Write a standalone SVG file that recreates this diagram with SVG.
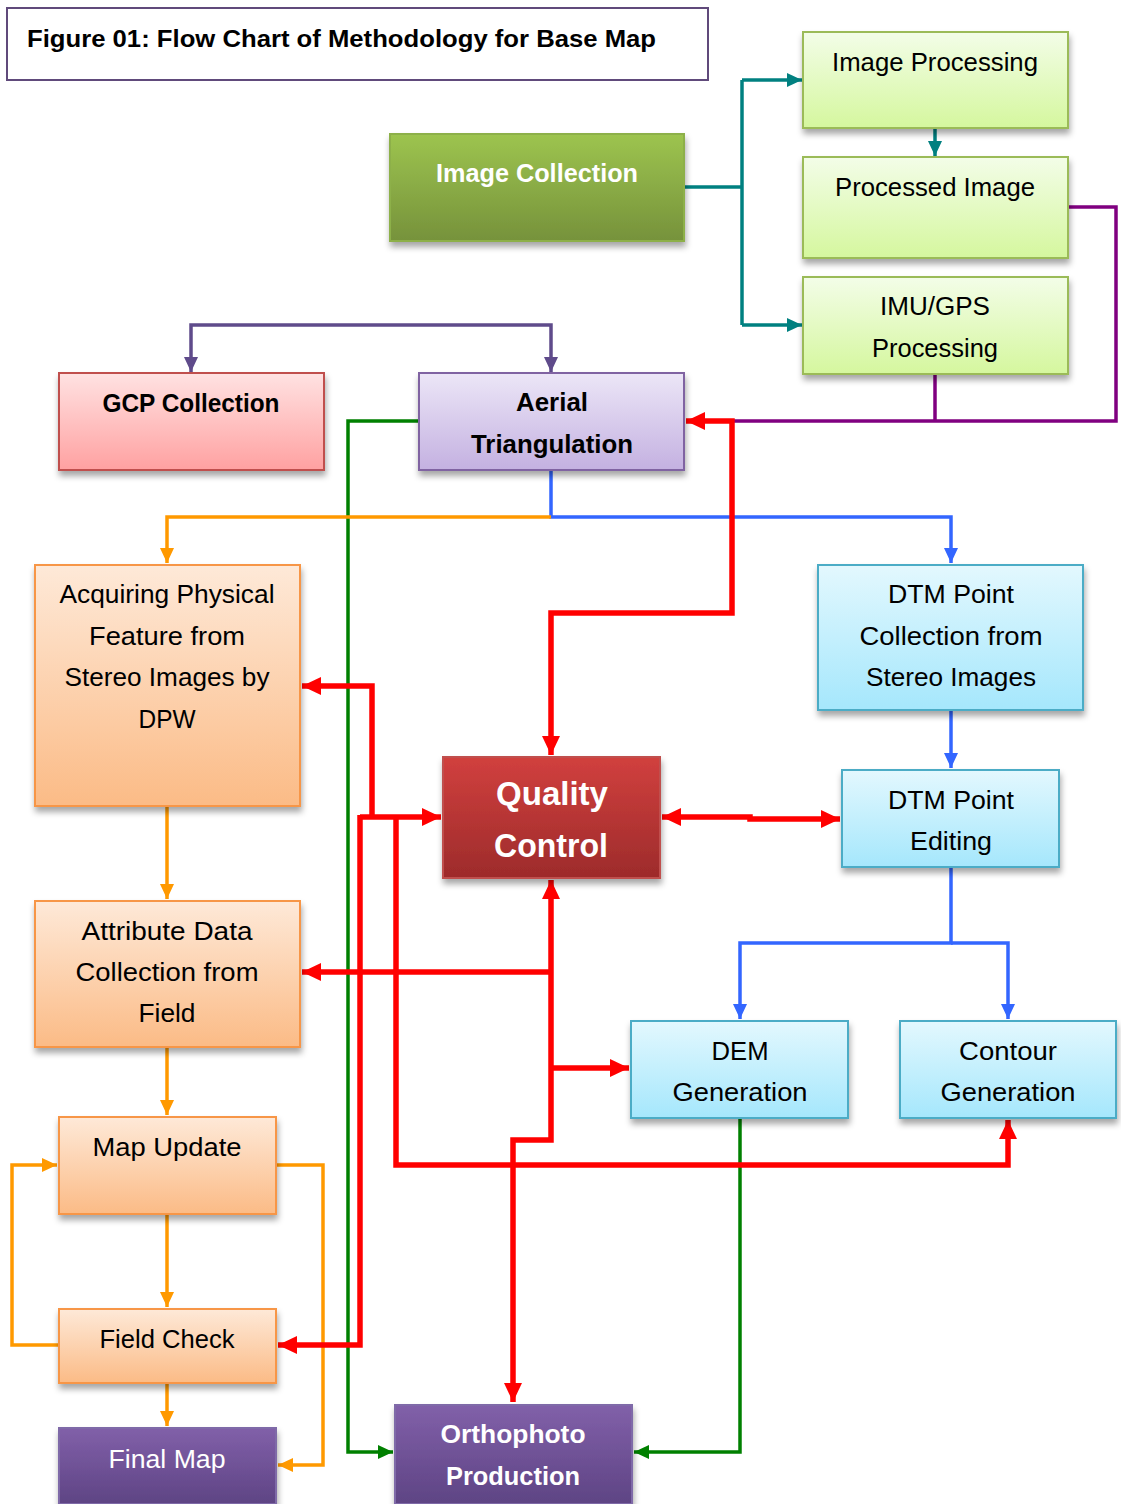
<svg xmlns="http://www.w3.org/2000/svg" width="1121" height="1504" viewBox="0 0 1121 1504">
<style>
  text { font-family: "Liberation Sans", Arial, sans-serif; font-size: 25px; fill: #000; text-anchor: middle; }
  .b { font-weight: bold; }
  .w { fill: #fff; }
  .node rect { filter: url(#sh); stroke-width: 2; }
  .c { fill: none; stroke-linejoin: miter; }
  .teal { stroke: #008080; stroke-width: 3.5; }
  .dp { stroke: #5f4b8b; stroke-width: 3.5; }
  .pu { stroke: #800080; stroke-width: 3.5; }
  .or { stroke: #ff9900; stroke-width: 3.5; }
  .bl { stroke: #3366ff; stroke-width: 3.5; }
  .gr { stroke: #008000; stroke-width: 3.5; }
  .rd { stroke: #ff0000; stroke-width: 5.5; }
</style>
<defs>
  <filter id="sh" x="-10%" y="-10%" width="130%" height="140%">
    <feDropShadow dx="1" dy="5" stdDeviation="3" flood-color="#000" flood-opacity="0.35"/>
  </filter>
  <linearGradient id="gLG" x1="0" y1="0" x2="0" y2="1"><stop offset="0" stop-color="#f3fde8"/><stop offset="1" stop-color="#d5f79e"/></linearGradient>
  <linearGradient id="gDG" x1="0" y1="0" x2="0" y2="1"><stop offset="0" stop-color="#9dc44f"/><stop offset="1" stop-color="#76923b"/></linearGradient>
  <linearGradient id="gPK" x1="0" y1="0" x2="0" y2="1"><stop offset="0" stop-color="#ffe2e2"/><stop offset="1" stop-color="#ffa1a1"/></linearGradient>
  <linearGradient id="gLV" x1="0" y1="0" x2="0" y2="1"><stop offset="0" stop-color="#ece6f7"/><stop offset="1" stop-color="#c4b1e1"/></linearGradient>
  <linearGradient id="gOR" x1="0" y1="0" x2="0" y2="1"><stop offset="0" stop-color="#fee9d8"/><stop offset="1" stop-color="#fbbb86"/></linearGradient>
  <linearGradient id="gCY" x1="0" y1="0" x2="0" y2="1"><stop offset="0" stop-color="#e3f8fe"/><stop offset="1" stop-color="#a5e7fc"/></linearGradient>
  <linearGradient id="gRD" x1="0" y1="0" x2="0" y2="1"><stop offset="0" stop-color="#d1403e"/><stop offset="1" stop-color="#9d2b2b"/></linearGradient>
  <linearGradient id="gPU" x1="0" y1="0" x2="0" y2="1"><stop offset="0" stop-color="#8160a9"/><stop offset="1" stop-color="#5e4484"/></linearGradient>
  <marker id="aTeal" markerUnits="userSpaceOnUse" markerWidth="16" markerHeight="14" refX="15" refY="7" orient="auto-start-reverse"><path d="M0,0 L15,7 L0,14 z" fill="#008080"/></marker>
  <marker id="aDP" markerUnits="userSpaceOnUse" markerWidth="16" markerHeight="14" refX="15" refY="7" orient="auto-start-reverse"><path d="M0,0 L15,7 L0,14 z" fill="#5f4b8b"/></marker>
  <marker id="aOr" markerUnits="userSpaceOnUse" markerWidth="16" markerHeight="14" refX="15" refY="7" orient="auto-start-reverse"><path d="M0,0 L15,7 L0,14 z" fill="#ff9900"/></marker>
  <marker id="aBl" markerUnits="userSpaceOnUse" markerWidth="16" markerHeight="14" refX="15" refY="7" orient="auto-start-reverse"><path d="M0,0 L15,7 L0,14 z" fill="#3366ff"/></marker>
  <marker id="aGr" markerUnits="userSpaceOnUse" markerWidth="16" markerHeight="14" refX="15" refY="7" orient="auto-start-reverse"><path d="M0,0 L15,7 L0,14 z" fill="#008000"/></marker>
  <marker id="aRd" markerUnits="userSpaceOnUse" markerWidth="20" markerHeight="18" refX="19" refY="9" orient="auto-start-reverse"><path d="M0,0 L19,9 L0,18 z" fill="#ff0000"/></marker>
</defs>

<g id="title">
  <rect x="7" y="8" width="701" height="72" fill="#fff" stroke="#604a7b" stroke-width="2"/>
  <text x="27" y="47" class="b" style="text-anchor:start;font-size:24px" textLength="629" lengthAdjust="spacingAndGlyphs">Figure 01: Flow Chart of Methodology for Base Map</text>
</g>

<g id="connectors">
  <!-- teal -->
  <path class="c teal" d="M684,187 L742,187"/>
  <path class="c teal" d="M742,80 L742,325"/>
  <path class="c teal" d="M742,80 L802,80" marker-end="url(#aTeal)"/>
  <path class="c teal" d="M742,325 L802,325" marker-end="url(#aTeal)"/>
  <path class="c teal" d="M935,128 L935,156" marker-end="url(#aTeal)"/>
  <!-- purple -->
  <path class="c pu" d="M1068,207 L1116,207 L1116,421 L732,421"/>
  <path class="c pu" d="M935,375 L935,421"/>
  <!-- dark purple -->
  <path class="c dp" d="M191,372 L191,325 L551,325 L551,372" marker-start="url(#aDP)" marker-end="url(#aDP)"/>
  <!-- green -->
  <path class="c gr" d="M419,421 L348,421 L348,1452 L393,1452" marker-end="url(#aGr)"/>
  <path class="c gr" d="M740,1118 L740,1452 L634,1452" marker-end="url(#aGr)"/>
  <!-- blue -->
  <path class="c bl" d="M551,470 L551,517 L951,517 L951,563" marker-end="url(#aBl)"/>
  <path class="c bl" d="M951,710 L951,768" marker-end="url(#aBl)"/>
  <path class="c bl" d="M951,867 L951,943 L740,943 L740,1019" marker-end="url(#aBl)"/>
  <path class="c bl" d="M951,943 L1008,943 L1008,1019" marker-end="url(#aBl)"/>
  <!-- orange -->
  <path class="c or" d="M551,517 L167,517 L167,563" marker-end="url(#aOr)"/>
  <path class="c or" d="M167,806 L167,899" marker-end="url(#aOr)"/>
  <path class="c or" d="M167,1047 L167,1115" marker-end="url(#aOr)"/>
  <path class="c or" d="M167,1214 L167,1307" marker-end="url(#aOr)"/>
  <path class="c or" d="M167,1383 L167,1426" marker-end="url(#aOr)"/>
  <path class="c or" d="M59,1345 L12,1345 L12,1165 L57,1165" marker-end="url(#aOr)"/>
  <path class="c or" d="M276,1165 L323,1165 L323,1465 L278,1465" marker-end="url(#aOr)"/>
  <!-- red -->
  <path class="c rd" d="M551,755 L551,613 L732,613 L732,421 L686,421" marker-start="url(#aRd)" marker-end="url(#aRd)"/>
  <path class="c rd" d="M360,817 L441,817" marker-end="url(#aRd)"/>
  <path class="c rd" d="M372,817 L372,686 L302,686" marker-end="url(#aRd)"/>
  <path class="c rd" d="M360,815 L360,1345 L278,1345" marker-end="url(#aRd)"/>
  <path class="c rd" d="M396,817 L396,1165 L1008,1165 L1008,1120" marker-end="url(#aRd)"/>
  <path class="c rd" d="M551,880 L551,1140 L513,1140 L513,1402" marker-start="url(#aRd)" marker-end="url(#aRd)"/>
  <path class="c rd" d="M551,972 L302,972" marker-end="url(#aRd)"/>
  <path class="c rd" d="M551,1068 L629,1068" marker-end="url(#aRd)"/>
  <path class="c rd" d="M662,817 L750,817 L750,819 L840,819" marker-start="url(#aRd)" marker-end="url(#aRd)"/>
</g>

<g id="image-processing" class="node">
  <rect x="803" y="32" width="265" height="96" fill="url(#gLG)" stroke="#9bbb59"/>
  <text x="935" y="71" textLength="206" lengthAdjust="spacingAndGlyphs">Image Processing</text>
</g>
<g id="processed-image" class="node">
  <rect x="803" y="157" width="265" height="101" fill="url(#gLG)" stroke="#9bbb59"/>
  <text x="935" y="196" textLength="200" lengthAdjust="spacingAndGlyphs">Processed Image</text>
</g>
<g id="imu-gps" class="node">
  <rect x="803" y="277" width="265" height="97" fill="url(#gLG)" stroke="#9bbb59"/>
  <text x="935" y="315" textLength="110" lengthAdjust="spacingAndGlyphs">IMU/GPS</text>
  <text x="935" y="357" textLength="126" lengthAdjust="spacingAndGlyphs">Processing</text>
</g>
<g id="image-collection" class="node">
  <rect x="390" y="134" width="294" height="107" fill="url(#gDG)" stroke="#8db04a"/>
  <text x="537" y="182" class="b w" textLength="202" lengthAdjust="spacingAndGlyphs">Image Collection</text>
</g>
<g id="gcp-collection" class="node">
  <rect x="59" y="373" width="265" height="97" fill="url(#gPK)" stroke="#c0504d"/>
  <text x="191" y="412" class="b" textLength="177" lengthAdjust="spacingAndGlyphs">GCP Collection</text>
</g>
<g id="aerial-triangulation" class="node">
  <rect x="419" y="373" width="265" height="97" fill="url(#gLV)" stroke="#8064a2"/>
  <text x="552" y="411" class="b" textLength="72" lengthAdjust="spacingAndGlyphs">Aerial</text>
  <text x="552" y="453" class="b" textLength="162" lengthAdjust="spacingAndGlyphs">Triangulation</text>
</g>
<g id="acquiring" class="node">
  <rect x="35" y="565" width="265" height="241" fill="url(#gOR)" stroke="#f79646"/>
  <text x="167" y="603" textLength="215" lengthAdjust="spacingAndGlyphs">Acquiring Physical</text>
  <text x="167" y="645" textLength="156" lengthAdjust="spacingAndGlyphs">Feature from</text>
  <text x="167" y="686" textLength="205" lengthAdjust="spacingAndGlyphs">Stereo Images by</text>
  <text x="167" y="728" textLength="57" lengthAdjust="spacingAndGlyphs">DPW</text>
</g>
<g id="dtm-collection" class="node">
  <rect x="818" y="565" width="265" height="145" fill="url(#gCY)" stroke="#4bacc6"/>
  <text x="951" y="603" textLength="126" lengthAdjust="spacingAndGlyphs">DTM Point</text>
  <text x="951" y="645" textLength="183" lengthAdjust="spacingAndGlyphs">Collection from</text>
  <text x="951" y="686" textLength="170" lengthAdjust="spacingAndGlyphs">Stereo Images</text>
</g>
<g id="quality-control" class="node">
  <rect x="443" y="757" width="217" height="121" fill="url(#gRD)" stroke="#c0504d"/>
  <text x="552" y="805" class="b w" style="font-size:33px" textLength="112" lengthAdjust="spacingAndGlyphs">Quality</text>
  <text x="551" y="857" class="b w" style="font-size:33px" textLength="114" lengthAdjust="spacingAndGlyphs">Control</text>
</g>
<g id="dtm-editing" class="node">
  <rect x="842" y="770" width="217" height="97" fill="url(#gCY)" stroke="#4bacc6"/>
  <text x="951" y="809" textLength="126" lengthAdjust="spacingAndGlyphs">DTM Point</text>
  <text x="951" y="850" textLength="82" lengthAdjust="spacingAndGlyphs">Editing</text>
</g>
<g id="attribute-data" class="node">
  <rect x="35" y="901" width="265" height="146" fill="url(#gOR)" stroke="#f79646"/>
  <text x="167" y="940" textLength="171" lengthAdjust="spacingAndGlyphs">Attribute Data</text>
  <text x="167" y="981" textLength="183" lengthAdjust="spacingAndGlyphs">Collection from</text>
  <text x="167" y="1022" textLength="57" lengthAdjust="spacingAndGlyphs">Field</text>
</g>
<g id="dem-generation" class="node">
  <rect x="631" y="1021" width="217" height="97" fill="url(#gCY)" stroke="#4bacc6"/>
  <text x="740" y="1060" textLength="57" lengthAdjust="spacingAndGlyphs">DEM</text>
  <text x="740" y="1101" textLength="135" lengthAdjust="spacingAndGlyphs">Generation</text>
</g>
<g id="contour-generation" class="node">
  <rect x="900" y="1021" width="216" height="97" fill="url(#gCY)" stroke="#4bacc6"/>
  <text x="1008" y="1060" textLength="98" lengthAdjust="spacingAndGlyphs">Contour</text>
  <text x="1008" y="1101" textLength="135" lengthAdjust="spacingAndGlyphs">Generation</text>
</g>
<g id="map-update" class="node">
  <rect x="59" y="1117" width="217" height="97" fill="url(#gOR)" stroke="#f79646"/>
  <text x="167" y="1156" textLength="149" lengthAdjust="spacingAndGlyphs">Map Update</text>
</g>
<g id="field-check" class="node">
  <rect x="59" y="1309" width="217" height="74" fill="url(#gOR)" stroke="#f79646"/>
  <text x="167" y="1348" textLength="135" lengthAdjust="spacingAndGlyphs">Field Check</text>
</g>
<g id="final-map" class="node">
  <rect x="59" y="1428" width="217" height="76" fill="url(#gPU)" stroke="#7f6aa8"/>
  <text x="167" y="1468" class="w" textLength="117" lengthAdjust="spacingAndGlyphs">Final Map</text>
</g>
<g id="orthophoto-production" class="node">
  <rect x="395" y="1405" width="237" height="99" fill="url(#gPU)" stroke="#7f6aa8"/>
  <text x="513" y="1443" class="b w" textLength="145" lengthAdjust="spacingAndGlyphs">Orthophoto</text>
  <text x="513" y="1485" class="b w" textLength="134" lengthAdjust="spacingAndGlyphs">Production</text>
</g>
</svg>
